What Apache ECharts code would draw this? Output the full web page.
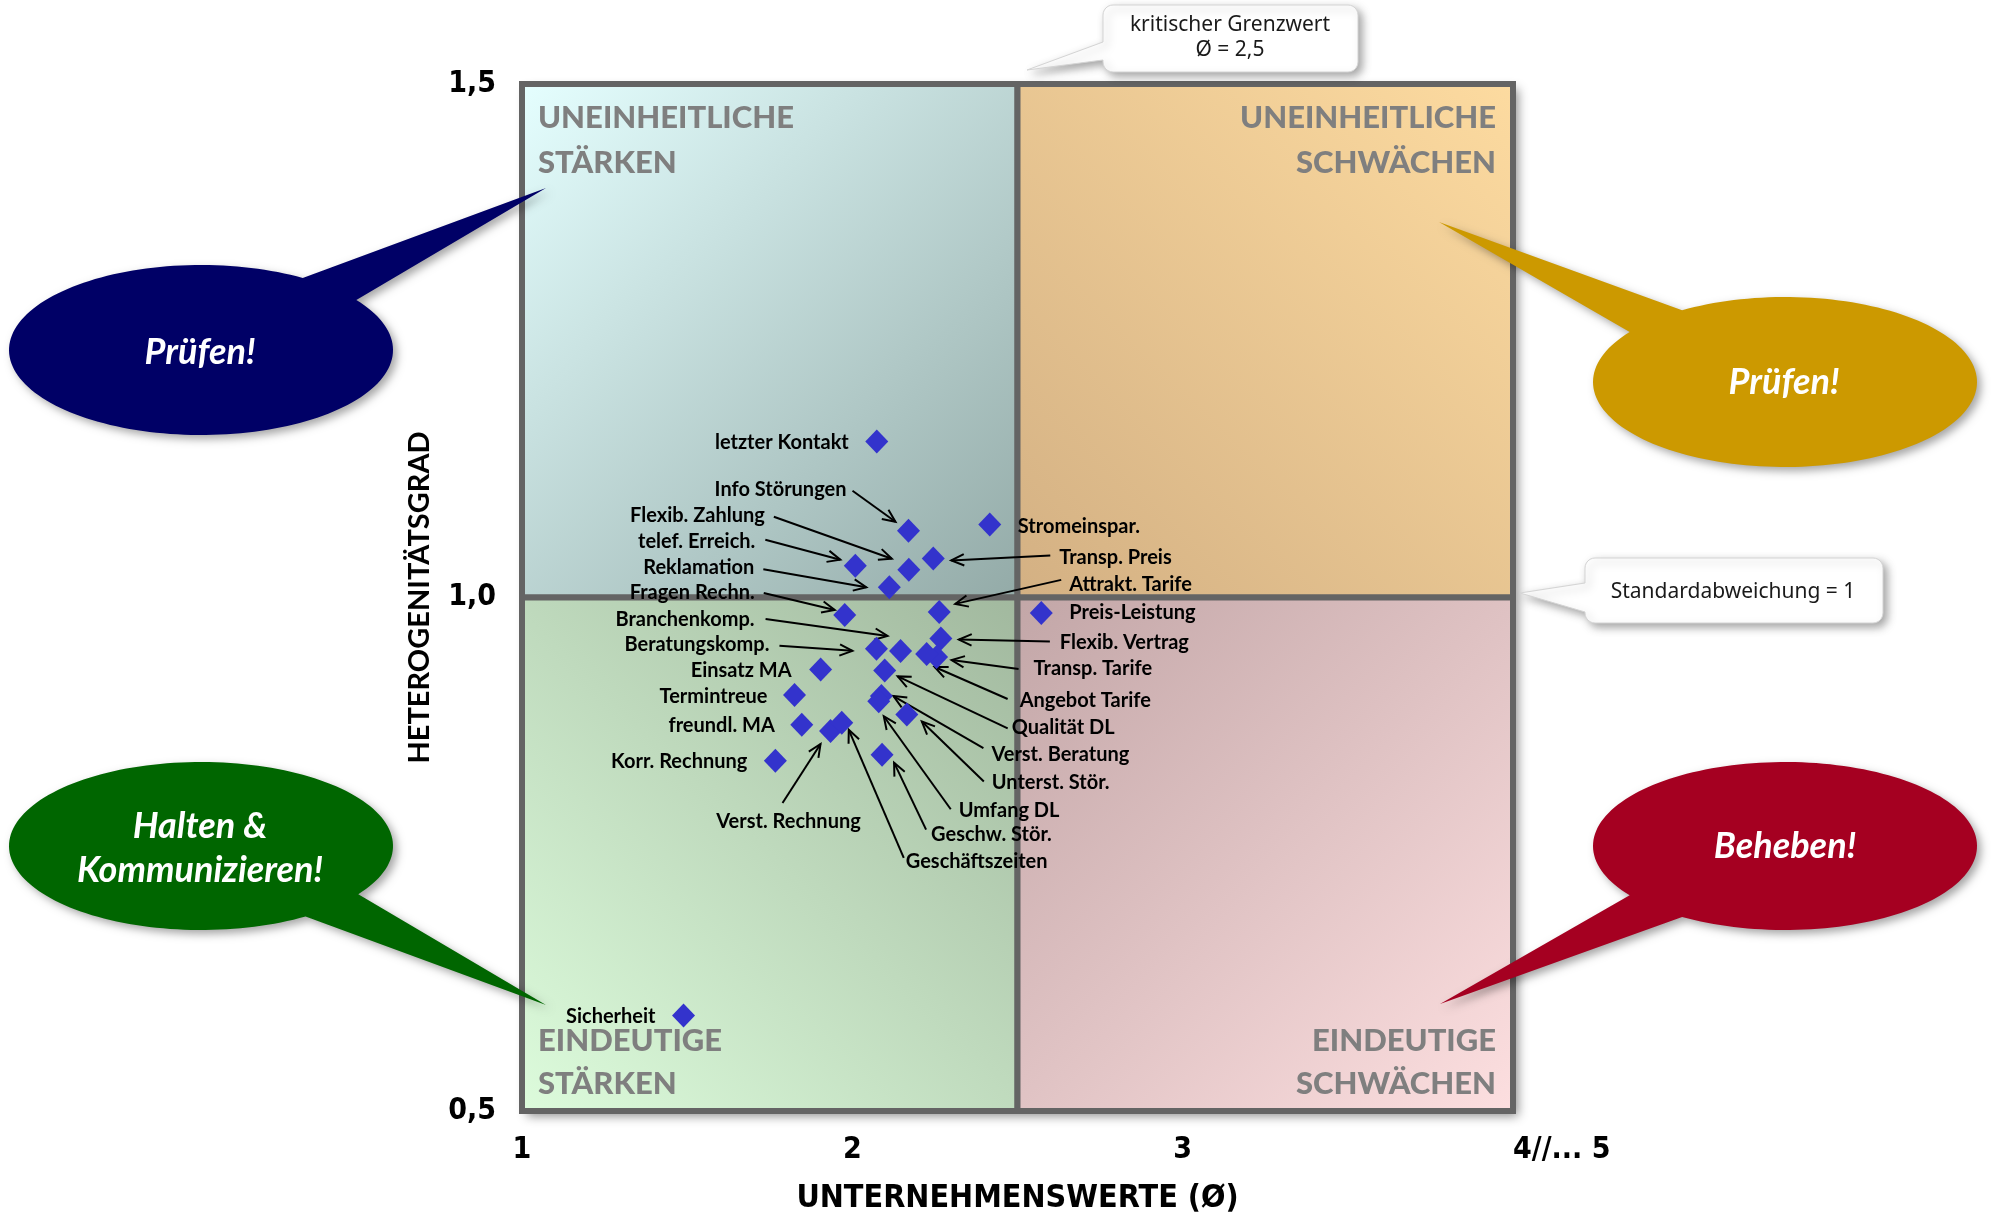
<!DOCTYPE html>
<html>
<head>
<meta charset="utf-8">
<script src="https://cdn.jsdelivr.net/npm/echarts@6/dist/echarts.min.js"></script>
<style>
html,body{margin:0;padding:0;background:#ffffff;}
#c{width:1997px;height:1220px;}
</style>
</head>
<body>
<div id="c"></div>
<script>
// ---------------- DATA ----------------
const names = [
  'letzter Kontakt', 'Info Störungen', 'Stromeinspar.', 'Transp. Preis', 'Flexib. Zahlung',
  'telef. Erreich.', 'Reklamation', 'Fragen Rechn.', 'Attrakt. Tarife', 'Preis-Leistung',
  'Branchenkomp.', 'Beratungskomp.', 'Flexib. Vertrag', 'Transp. Tarife', 'Angebot Tarife',
  'Qualität DL', 'Einsatz MA', 'Termintreue', 'Verst. Beratung', 'Umfang DL',
  'Unterst. Stör.', 'freundl. MA', 'Verst. Rechnung', 'Geschäftszeiten', 'Geschw. Stör.',
  'Korr. Rechnung', 'Sicherheit'
];
const unternehmenswerte = [
  2.074, 2.170, 2.416, 2.245, 2.171,
  2.009, 2.112, 1.977, 2.263, 2.572,
  2.146, 2.073, 2.268, 2.255, 2.225,
  2.098, 1.904, 1.825, 2.088, 2.080,
  2.165, 1.847, 1.934, 1.968, 2.090,
  1.767, 1.489
];
const heterogenitaet = [
  1.152, 1.065, 1.071, 1.038, 1.027,
  1.031, 1.010, 0.983, 0.986, 0.985,
  0.948, 0.950, 0.960, 0.942, 0.945,
  0.929, 0.930, 0.905, 0.904, 0.899,
  0.886, 0.876, 0.870, 0.878, 0.847,
  0.841, 0.593
];
const xTickLabels = {'1': '1', '2': '2', '3': '3', '4': '4//... 5'};
const yTickLabels = {'0.5': '0,5', '1': '1,0', '1.5': '1,5'};
const kritischerGrenzwert = 2.5;
const standardabweichung = 1.0;
const quadrantTitles = ['UNEINHEITLICHE\nSTÄRKEN', 'UNEINHEITLICHE\nSCHWÄCHEN', 'EINDEUTIGE\nSTÄRKEN', 'EINDEUTIGE\nSCHWÄCHEN'];
const bubbleTexts = ['Prüfen!', 'Prüfen!', 'Halten &\nKommunizieren!', 'Beheben!'];
const calloutTexts = ['kritischer Grenzwert\nØ = 2,5', 'Standardabweichung = 1'];
const xAxisTitle = 'UNTERNEHMENSWERTE (Ø)';
const yAxisTitle = 'HETEROGENITÄTSGRAD';

// ---------------- LAYOUT (pixel offsets of labels/arrows from their point) ----------------
// [labelDx, labelDy, align, arrowStartDx, arrowStartDy, arrowEndDx, arrowEndDy]
const labelLayout = [
  [-28, 1, 'right'],
  [-62, -41, 'right', -56, -40, -13, -9],
  [28, 2, 'left'],
  [126, -1, 'left', 117, -3, 18, 2],
  [-144, -54, 'right', -135, -53, -17, -11],
  [-100, -24, 'right', -90, -26, -15, -6],
  [-135, -20, 'right', -126, -18, -23, 0],
  [-90, -22, 'right', -81, -22, -10, -5],
  [130, -27, 'left', 122, -32, 16, -8],
  [28, 0, 'left'],
  [-146, -31, 'right', -135, -32, -13, -15],
  [-107, -4, 'right', -97, -3, -24, 2],
  [119, 4, 'left', 109, 3, 18, 1],
  [97, 11, 'left', 82, 12, 15, 3],
  [93, 47, 'left', 81, 45, 8, 13],
  [127, 57, 'left', 123, 58, 13, 6],
  [-29, 1, 'right'],
  [-27, 1, 'right'],
  [110, 58, 'left', 102, 52, 12, 0],
  [80, 109, 'left', 72, 108, 5, 15],
  [85, 68, 'left', 77, 67, 15, 7],
  [-27, 1, 'right'],
  [-42, 91, 'center', -48, 72, -10, 13],
  [64, 139, 'left', 62, 135, 7, 7],
  [49, 80, 'left', 44, 75, 12, 8],
  [-28, 1, 'right'],
  [-28, 1, 'right']
];

const LABEL_FONT = 'bold 20px Lato, "Noto Sans", sans-serif';
const NARROW = '"Liberation Sans Narrow","DejaVu Sans Condensed","Roboto Condensed","Arial Narrow",Lato,sans-serif';

const points = unternehmenswerte.map((x, i) => [x, heterogenitaet[i]]);

function renderLabel(params, api) {
  const i = params.dataIndex;
  const p = api.coord([api.value(0), api.value(1)]);
  const L = labelLayout[i];
  const children = [{
    type: 'text',
    style: {
      text: names[i], x: p[0] + L[0], y: p[1] + L[1],
      align: L[2], verticalAlign: 'middle',
      textAlign: L[2], textVerticalAlign: 'middle',
      font: LABEL_FONT, fill: '#000000'
    }
  }];
  if (L.length > 3) {
    const x0 = p[0] + L[3], y0 = p[1] + L[4], x1 = p[0] + L[5], y1 = p[1] + L[6];
    const ang = Math.atan2(y1 - y0, x1 - x0);
    const h = 14, w = 0.42;
    children.push({type: 'line', shape: {x1: x0, y1: y0, x2: x1, y2: y1},
      style: {stroke: '#000', lineWidth: 2}});
    children.push({type: 'polyline', shape: {points: [
      [x1 - h * Math.cos(ang - w), y1 - h * Math.sin(ang - w)],
      [x1, y1],
      [x1 - h * Math.cos(ang + w), y1 - h * Math.sin(ang + w)]
    ]}, style: {stroke: '#000', lineWidth: 2, fill: null}});
  }
  return {type: 'group', children: children};
}

// speech bubble outline: ellipse + tail between angles a1<a2 (deg)
function bubblePoints(cx, cy, rx, ry, a1, a2, tx, ty) {
  const r = Math.PI / 180;
  const pts = [[tx, ty]];
  const n = 160;
  for (let k = 0; k <= n; k++) {
    const a = (a2 + (360 - (a2 - a1)) * k / n) * r;
    pts.push([cx + rx * Math.cos(a), cy + ry * Math.sin(a)]);
  }
  return pts;
}
// rounded box with tail on the left side
function calloutPoints(x0, y0, x1, y1, rad, b0, b1, tx, ty) {
  const pts = [];
  function arc(cx, cy, s, e) {
    for (let k = 0; k <= 6; k++) {
      const a = (s + (e - s) * k / 6) * Math.PI / 180;
      pts.push([cx + rad * Math.cos(a), cy + rad * Math.sin(a)]);
    }
  }
  arc(x0 + rad, y0 + rad, 180, 270);
  arc(x1 - rad, y0 + rad, 270, 360);
  arc(x1 - rad, y1 - rad, 0, 90);
  arc(x0 + rad, y1 - rad, 90, 180);
  pts.push([x0, b1], [tx, ty], [x0, b0]);
  return pts;
}

const shadow = {shadowBlur: 8, shadowOffsetX: 4, shadowOffsetY: 4, shadowColor: 'rgba(0,0,0,0.35)'};
const bubbleFont = 'italic bold 36px Lato, "Noto Sans", sans-serif';

function bubble(pts, fill, text, cx, cy, lh) {
  return [
    {type: 'polygon', z: 50, shape: {points: pts},
      style: Object.assign({fill: fill}, shadow)},
    {type: 'text', z: 51, x: cx, y: cy,
      style: {text: text, fill: '#ffffff', font: bubbleFont, align: 'center', verticalAlign: 'middle',
        textAlign: 'center', textVerticalAlign: 'middle', lineHeight: lh || 44}}
  ];
}

function grad(x, y, x2, y2, c0, c1) {
  return {type: 'linear', x: x, y: y, x2: x2, y2: y2, global: false,
    colorStops: [{offset: 0, color: c0}, {offset: 1, color: c1}]};
}
const qLabel = {show: true, color: '#7F7F7F', fontSize: 31, fontWeight: 900,
  fontFamily: 'Lato, "Noto Sans", sans-serif', distance: 5};
const qBorder = {borderColor: '#646464', borderWidth: 6};

const option = {
  animation: false,
  backgroundColor: '#ffffff',
  grid: {
    left: 522, top: 84, width: 991, height: 1028,
    show: true, backgroundColor: '#ffffff', borderWidth: 0,
    shadowBlur: 10, shadowOffsetX: 5, shadowOffsetY: 5, shadowColor: 'rgba(0,0,0,0.45)'
  },
  xAxis: {
    type: 'value', min: 1, max: 4, interval: 1,
    axisLine: {show: false}, axisTick: {show: false}, splitLine: {show: false},
    axisLabel: {
      margin: 24, color: '#000', fontSize: 30, fontWeight: 'bold', fontFamily: NARROW,
      alignMaxLabel: 'left',
      formatter: v => xTickLabels[String(v)] || ''
    },
    name: xAxisTitle, nameLocation: 'middle', nameGap: 72,
    nameTextStyle: {color: '#000', fontSize: 32, fontWeight: 'bold', fontFamily: NARROW}
  },
  yAxis: {
    type: 'value', min: 0.5, max: 1.5, interval: 0.5,
    axisLine: {show: false}, axisTick: {show: false}, splitLine: {show: false},
    axisLabel: {
      margin: 26, color: '#000', fontSize: 30, fontWeight: 'bold', fontFamily: NARROW,
      formatter: v => yTickLabels[String(v)] || ''
    },
    name: yAxisTitle, nameLocation: 'middle', nameGap: 88,
    nameTextStyle: {color: '#000', fontSize: 29, fontWeight: 'bold', fontFamily: 'Lato, "Noto Sans", sans-serif'}
  },
  series: [
    {
      type: 'scatter', name: 'quadrants', data: [], clip: false, silent: true, z: 1,
      markArea: {
        silent: true,
        data: [
          [{xAxis: 1, yAxis: 1.5,
            itemStyle: Object.assign({color: grad(0, 0, 1, 1, '#E5FFFF', '#93AAA7')}, qBorder),
            label: Object.assign({position: 'insideTopLeft', offset: [14, 9], lineHeight: 45, formatter: quadrantTitles[0]}, qLabel)},
           {xAxis: kritischerGrenzwert, yAxis: standardabweichung}],
          [{xAxis: kritischerGrenzwert, yAxis: 1.5,
            itemStyle: Object.assign({color: grad(1, 0, 0, 1, '#FDDBA0', '#D3B083')}, qBorder),
            label: Object.assign({position: 'insideTopRight', offset: [-15, 9], lineHeight: 45, formatter: quadrantTitles[1]}, qLabel)},
           {xAxis: 4, yAxis: standardabweichung}],
          [{xAxis: 1, yAxis: standardabweichung,
            itemStyle: Object.assign({color: grad(0, 1, 1, 0, '#DDFCDC', '#A1B89E')}, qBorder),
            label: Object.assign({position: 'insideBottomLeft', offset: [14, -4], lineHeight: 43, formatter: quadrantTitles[2]}, qLabel)},
           {xAxis: kritischerGrenzwert, yAxis: 0.5}],
          [{xAxis: kritischerGrenzwert, yAxis: standardabweichung,
            itemStyle: Object.assign({color: grad(1, 1, 0, 0, '#FDDFE0', '#C2A6A7')}, qBorder),
            label: Object.assign({position: 'insideBottomRight', offset: [-15, -4], lineHeight: 43, formatter: quadrantTitles[3]}, qLabel)},
           {xAxis: 4, yAxis: 0.5}]
        ]
      }
    },
    {
      type: 'custom', name: 'labels', data: points, clip: false, silent: true, z: 3,
      renderItem: renderLabel
    },
    {
      type: 'scatter', name: 'Werte', data: points, clip: false, z: 5,
      symbol: 'diamond', symbolSize: [23, 24],
      itemStyle: {color: '#3333CC', opacity: 1}
    }
  ],
  graphic: [
    ...bubble(bubblePoints(201, 350, 192, 85, -58, -36, 546, 188), '#000066', bubbleTexts[0], 200, 352),
    ...bubble(bubblePoints(1785, 382, 192, 85, 216, 237.6, 1439, 222), '#CC9900', bubbleTexts[1], 1784, 382),
    ...bubble(bubblePoints(201, 846, 192, 84, 35, 57, 546, 1005), '#006600', bubbleTexts[2], 200, 848, 44),
    ...bubble(bubblePoints(1785, 846, 192, 84, 122.4, 144, 1440, 1004), '#A50021', bubbleTexts[3], 1785, 846),
    {type: 'polygon', z: 50, shape: {points: calloutPoints(1103, 5, 1358, 72, 10, 42, 60, 1027, 70)},
      style: Object.assign({fill: '#ffffff', stroke: '#d4d4d4', lineWidth: 1}, shadow)},
    {type: 'text', z: 51, x: 1230, y: 38,
      style: {text: calloutTexts[0], fill: '#1a1a1a', font: '21px "Noto Sans", sans-serif', lineHeight: 25,
        align: 'center', verticalAlign: 'middle', textAlign: 'center', textVerticalAlign: 'middle'}},
    {type: 'polygon', z: 50, shape: {points: calloutPoints(1585, 558, 1883, 623, 10, 583, 612, 1520, 593)},
      style: Object.assign({fill: '#ffffff', stroke: '#d4d4d4', lineWidth: 1}, shadow)},
    {type: 'text', z: 51, x: 1733, y: 592,
      style: {text: calloutTexts[1], fill: '#1a1a1a', font: '21px "Noto Sans", sans-serif',
        align: 'center', verticalAlign: 'middle', textAlign: 'center', textVerticalAlign: 'middle'}}
  ]
};

const chart = echarts.init(document.getElementById('c'), null, {width: 1997, height: 1220});
chart.setOption(option);
</script>
</body>
</html>
